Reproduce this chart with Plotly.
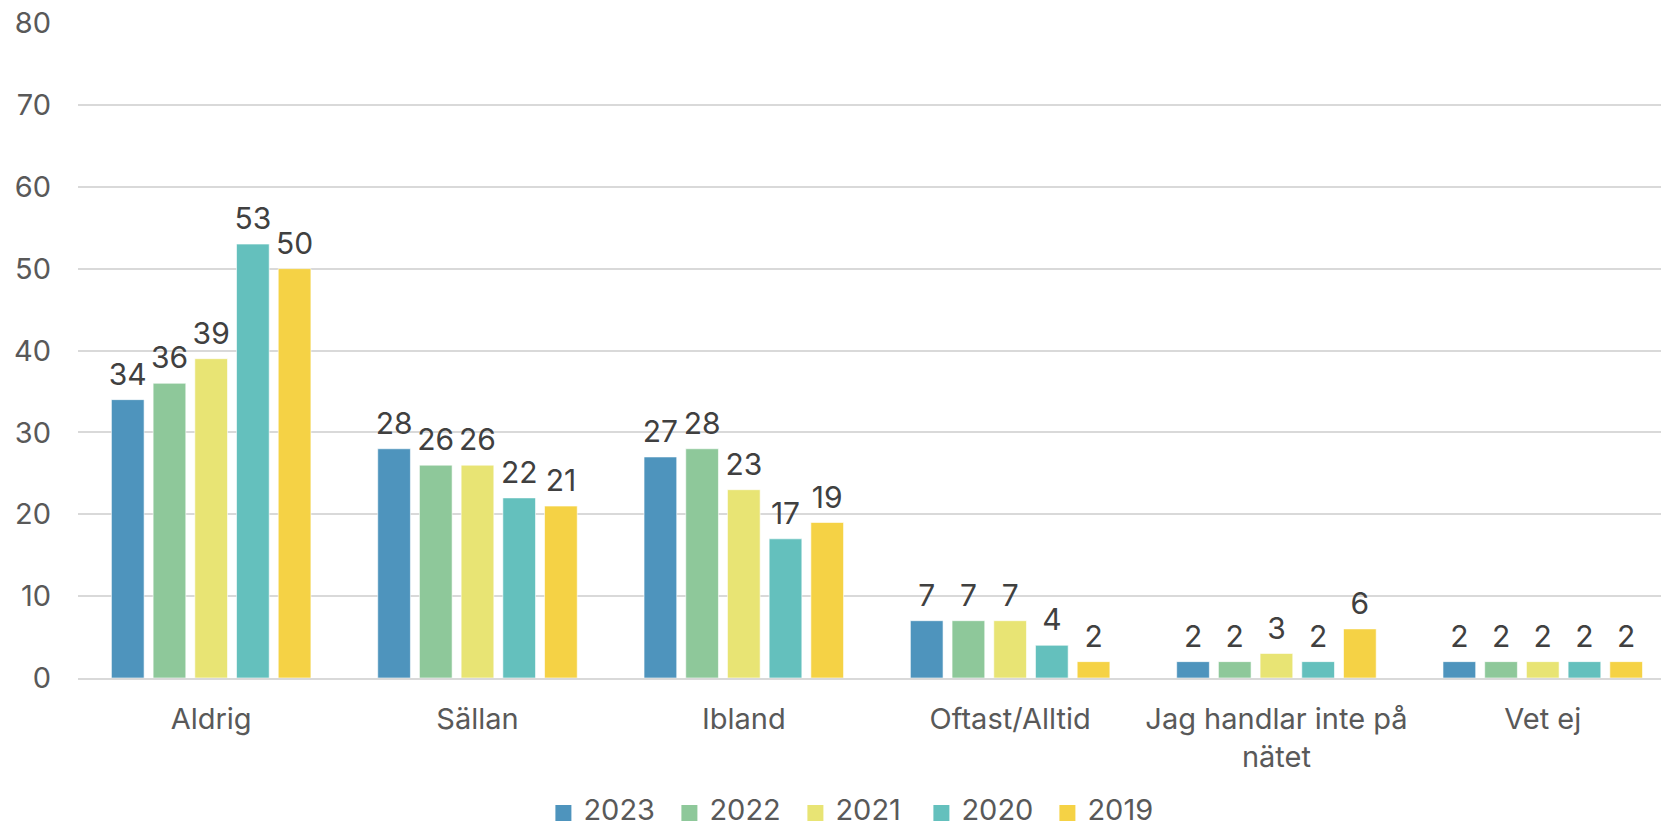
import plotly.graph_objects as go

categories = ["Aldrig", "Sällan", "Ibland", "Oftast/Alltid", "Jag handlar inte på<br>nätet", "Vet ej"]
years = ["2023", "2022", "2021", "2020", "2019"]
v2023 = [34, 28, 27, 7, 2, 2]
v2022 = [36, 26, 28, 7, 2, 2]
v2021 = [39, 26, 23, 7, 3, 2]
v2020 = [53, 22, 17, 4, 2, 2]
v2019 = [50, 21, 19, 2, 6, 2]
series = [v2023, v2022, v2021, v2020, v2019]
colors = ["#4E94BD", "#8EC89A", "#E8E474", "#64C0BD", "#F5D245"]

FONT = "Inter"
LABEL_GAP = 0.6  # small spacing (in axis units) between bar top and its value label

fig = go.Figure()
for name, vals, col in zip(years, series, colors):
    fig.add_trace(go.Bar(
        x=categories, y=vals, name=name, showlegend=False, offsetgroup=name,
        marker=dict(color=col, line=dict(color="rgba(255,255,255,0.6)", width=1)),
        hovertemplate="%{x}: %{y}<extra>" + name + "</extra>",
    ))
    # transparent spacer carrying the value label just above the bar
    fig.add_trace(go.Bar(
        x=categories, y=[LABEL_GAP] * len(vals), base=vals, name=name, showlegend=False,
        offsetgroup=name, marker=dict(color="rgba(0,0,0,0)", line=dict(width=0)),
        text=[str(v) for v in vals], textposition="outside",
        textfont=dict(family=FONT, size=30, color="#404040"),
        constraintext="none", cliponaxis=False, hoverinfo="skip",
    ))
# legend entries with larger square swatches
for name, col in zip(years, colors):
    fig.add_trace(go.Scatter(
        x=[categories[0]], y=[None], mode="markers",
        name='<span style="font-size:29px">' + name + "</span>",
        marker=dict(symbol="square", size=16, color=col),
        showlegend=True, hoverinfo="skip",
    ))

fig.update_layout(
    width=1661, height=827,
    paper_bgcolor="white", plot_bgcolor="white",
    margin=dict(l=78, r=0, t=23, b=149, autoexpand=False),
    barmode="group", bargap=0.217, bargroupgap=0.216,
    font=dict(family=FONT, size=29, color="#595959"),
    showlegend=True,
    legend=dict(orientation="h", x=0.294, xanchor="left", y=-0.2066, yanchor="middle",
                font=dict(family=FONT, size=18, color="#595959"),
                itemwidth=30, traceorder="normal", entrywidth=81, entrywidthmode="pixels"),
    xaxis=dict(range=[-0.5, 5.444], showline=True, linecolor="#d9d9d9", linewidth=2,
               ticks="", tickfont=dict(family=FONT, size=29, color="#595959"),
               showgrid=False, automargin=False, ticklabelstandoff=14),
    yaxis=dict(range=[0, 80], dtick=10, showgrid=True, gridcolor="#d9d9d9", gridwidth=1.5,
               zeroline=False, ticks="", ticklabelstandoff=26, automargin=False,
               tickfont=dict(family=FONT, size=29, color="#595959")),
)
fig.write_html("out.html", config={"displayModeBar": False},
               post_script="document.body.style.margin='0';document.body.style.overflow='hidden';")
